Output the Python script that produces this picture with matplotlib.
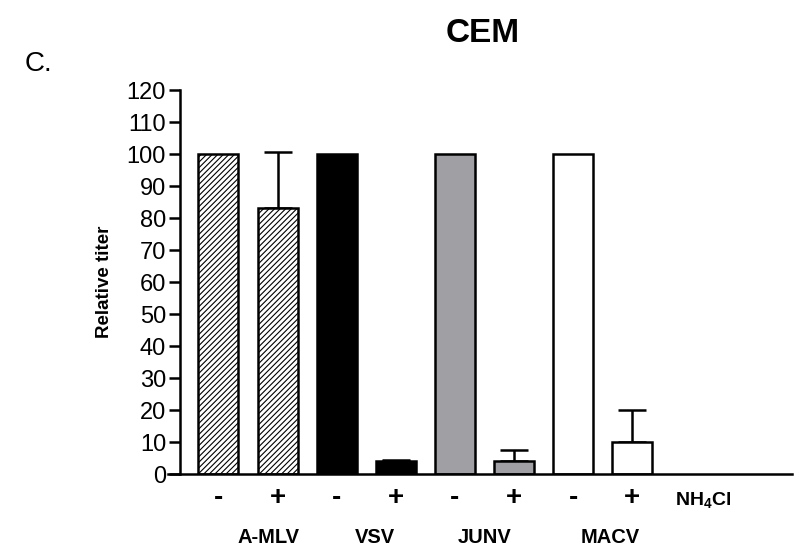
import numpy as np
import matplotlib
matplotlib.use("Agg")
import matplotlib.pyplot as plt

plt.rcParams['font.family'] = ['Liberation Sans Narrow', 'Liberation Sans', 'DejaVu Sans']
plt.rcParams['mathtext.fontset'] = 'custom'
plt.rcParams['mathtext.rm'] = 'Liberation Sans'
plt.rcParams['mathtext.bf'] = 'Liberation Sans:bold'
plt.rcParams['mathtext.default'] = 'bf'
plt.rcParams['hatch.linewidth'] = 0.8

# data
viruses = ['A-MLV', 'VSV', 'JUNV', 'MACV']
nh4cl = ['-', '+', '-', '+', '-', '+', '-', '+']
titer = [100, 83, 100, 4.2, 100, 4, 100, 10]
err_up = [0, 17.5, 0, 0.3, 0, 3.5, 0, 10]
yticks = list(range(0, 121, 10))

# styles per virus
face = {'A-MLV': 'white', 'VSV': 'black', 'JUNV': '#a0a0a4', 'MACV': 'white'}
hatch = {'A-MLV': '//////', 'VSV': None, 'JUNV': None, 'MACV': None}

fig = plt.figure(figsize=(8, 5.54), dpi=100)
ax = fig.add_axes([0.225, 0.1444, 0.765, 0.693])

x = np.arange(len(titer))
for i, v in enumerate(titer):
    vir = viruses[i // 2]
    ax.bar(x[i], v, width=0.677, color=face[vir], edgecolor='black',
           linewidth=1.8, hatch=hatch[vir], zorder=2)
    if err_up[i] > 0:
        ax.errorbar(x[i], v, yerr=[[0], [err_up[i]]], fmt='none',
                    ecolor='black', elinewidth=1.8, capsize=10, capthick=1.8,
                    zorder=1)

ax.set_xlim(-0.65, 9.70)
ax.set_ylim(0, 120)
ax.set_yticks(yticks)
ax.set_xticks([])
ax.tick_params(axis='y', labelsize=17, width=1.8, length=8, pad=2)
for s in ['top', 'right']:
    ax.spines[s].set_visible(False)
ax.spines['left'].set_linewidth(1.8)
ax.spines['bottom'].set_linewidth(1.8)
ax.spines['bottom'].set_bounds(-0.86, 9.70)
ax.spines['left'].set_bounds(0, 120)

ax.set_ylabel('Relative titer', fontsize=13.5, fontweight='bold', labelpad=10,
              family=['Liberation Sans', 'DejaVu Sans'])

# treatment labels
for i, lab in enumerate(nh4cl):
    ax.text(x[i], -7.5, lab, ha='center', va='center', fontsize=20,
            fontweight='bold', clip_on=False)
ax.text(8.2, -8, 'NH$_4$Cl', ha='center', va='center', fontsize=14,
        fontweight='bold', family=['Liberation Sans', 'DejaVu Sans'], clip_on=False)

grp_x = [0.85, 2.65, 4.5, 6.63]
for gx, name in zip(grp_x, viruses):
    ax.text(gx, -20, name, ha='center', va='center', fontsize=14.5,
            fontweight='bold', family=['Liberation Sans', 'DejaVu Sans'], clip_on=False)

fig.text(483 / 800, 1 - 34 / 554, 'CEM', ha='center', va='center',
         fontsize=24, fontweight='bold')
fig.text(25 / 800, 1 - 64 / 554, 'C.', ha='left', va='center', fontsize=20)

fig.savefig('out.png', dpi=100)
